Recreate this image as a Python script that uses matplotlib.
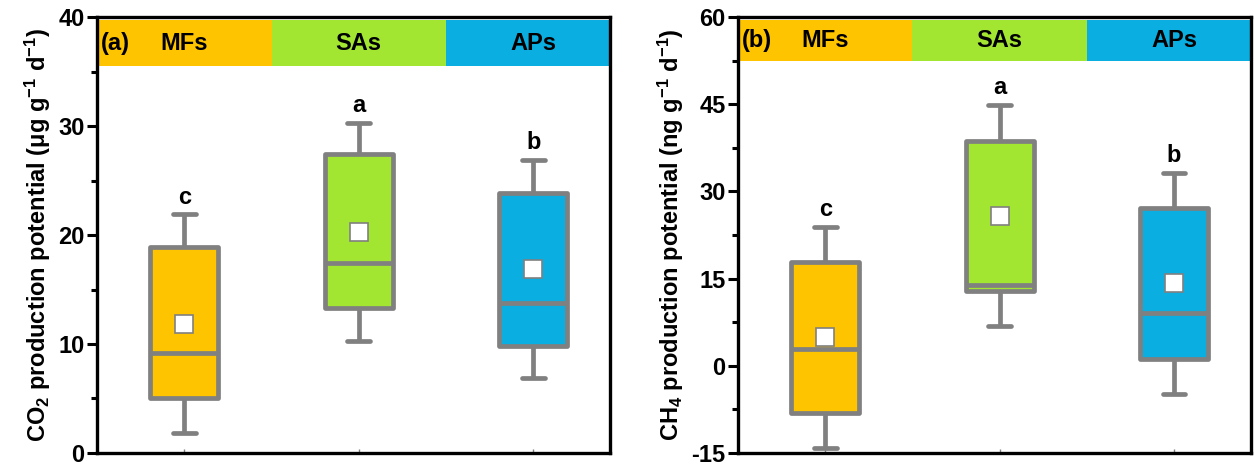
import matplotlib
matplotlib.use("Agg")
import matplotlib.pyplot as plt
from matplotlib.ticker import MultipleLocator

# ---- data -------------------------------------------------------------
groups = ["MFs", "SAs", "APs"]
colors = ["#FFC400", "#A2E632", "#0AAEE0"]
letters_co2 = ["c", "a", "b"]
letters_ch4 = ["c", "a", "b"]

# CO2 production potential (ug g-1 d-1)
co2_whislo = [1.8, 10.3, 6.9]
co2_q1 = [5.0, 13.3, 9.8]
co2_med = [9.2, 17.4, 13.8]
co2_mean = [11.8, 20.3, 16.9]
co2_q3 = [18.9, 27.4, 23.9]
co2_whishi = [21.9, 30.3, 26.9]

# CH4 production potential (ng g-1 d-1)
ch4_whislo = [-14.1, 6.9, -4.8]
ch4_q1 = [-8.1, 12.9, 1.2]
ch4_med = [2.9, 13.9, 9.0]
ch4_mean = [5.0, 25.8, 14.3]
ch4_q3 = [17.9, 38.7, 27.2]
ch4_whishi = [23.9, 44.9, 33.2]

# ---- style ------------------------------------------------------------
plt.rcParams["font.family"] = ["Liberation Sans", "DejaVu Sans"]
plt.rcParams["font.weight"] = "bold"
plt.rcParams["axes.unicode_minus"] = False
plt.rcParams["mathtext.fontset"] = "custom"
plt.rcParams["mathtext.rm"] = "Liberation Sans:bold"
plt.rcParams["mathtext.bf"] = "Liberation Sans:bold"
plt.rcParams["mathtext.default"] = "rm"

GRAY = "#808080"
positions = [1, 2, 3]


def panel(ax, whislo, q1, med, mean, q3, whishi, letters, ylim, major, minor,
          band, tag, ylabel):
    stats = []
    for i in range(len(groups)):
        stats.append(dict(whislo=whislo[i], q1=q1[i], med=med[i], mean=mean[i],
                          q3=q3[i], whishi=whishi[i], fliers=[], label=groups[i]))
    art = ax.bxp(stats, positions=positions, widths=0.39, capwidths=0.13,
                 patch_artist=True, showmeans=True, manage_ticks=False,
                 boxprops=dict(edgecolor=GRAY, linewidth=3.4),
                 whiskerprops=dict(color=GRAY, linewidth=3.4, solid_capstyle="butt"),
                 capprops=dict(color=GRAY, linewidth=3.4, solid_capstyle="round"),
                 medianprops=dict(color=GRAY, linewidth=3.4),
                 meanprops=dict(marker="s", markerfacecolor="white",
                                markeredgecolor=GRAY, markeredgewidth=1.2,
                                markersize=12.5))
    for patch, c in zip(art["boxes"], colors):
        patch.set_facecolor(c)
        patch.set_joinstyle("round")
        patch.set_zorder(2)

    # coloured header strip, one block per group
    x_edges = [0.5, 1.5, 2.5, 3.44]
    for i, c in enumerate(colors):
        ax.fill_between([x_edges[i], x_edges[i + 1]], band[0], band[1],
                        color=c, lw=0, zorder=1)
        ax.text(positions[i], (band[0] + band[1]) / 2, groups[i],
                ha="center", va="center", fontsize=17, fontweight="bold")
    ax.text(0.52, (band[0] + band[1]) / 2, tag, ha="left", va="center",
            fontsize=17, fontweight="bold")

    # significance letters above the upper whiskers
    for i, lt in enumerate(letters):
        ax.annotate(lt, (positions[i], whishi[i]), xytext=(0, 4),
                    textcoords="offset points", ha="center", va="bottom",
                    fontsize=17, fontweight="bold")

    ax.set_xlim(0.5, 3.44)
    ax.set_ylim(*ylim)
    ax.yaxis.set_major_locator(MultipleLocator(major))
    ax.yaxis.set_minor_locator(MultipleLocator(minor))
    ax.set_xticks(positions)
    ax.set_xticklabels([])
    ax.tick_params(axis="x", which="major", direction="in", length=3,
                   width=1, color=GRAY)
    ax.tick_params(axis="y", which="major", direction="out", length=7,
                   width=2.2, labelsize=17, pad=2)
    ax.tick_params(axis="y", which="minor", direction="out", length=4,
                   width=2.2)
    for lab in ax.get_yticklabels():
        lab.set_fontweight("bold")
    for sp in ax.spines.values():
        sp.set_linewidth(2.4)
        sp.set_zorder(5)
    ax.set_ylabel(ylabel, fontsize=17, fontweight="bold", labelpad=4)


fig = plt.figure(figsize=(12.54, 4.65), dpi=100)
ax1 = fig.add_axes([0.0774, 0.026, 0.409, 0.937])
ax2 = fig.add_axes([0.5885, 0.026, 0.409, 0.937])

panel(ax1, co2_whislo, co2_q1, co2_med, co2_mean, co2_q3, co2_whishi,
      letters_co2, (0, 40), 10, 5, (35.5, 39.75), "(a)",
      r"CO$_2$ production potential (μg g$^{-1}$ d$^{-1}$)")
panel(ax2, ch4_whislo, ch4_q1, ch4_med, ch4_mean, ch4_q3, ch4_whishi,
      letters_ch4, (-15, 60), 15, 7.5, (52.5, 59.5), "(b)",
      r"CH$_4$ production potential (ng g$^{-1}$ d$^{-1}$)")

fig.savefig("out.png", dpi=100)
